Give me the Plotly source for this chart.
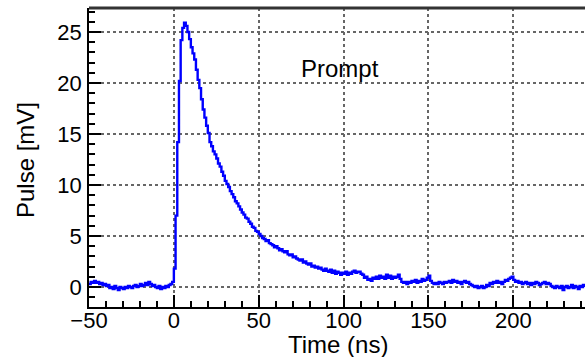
import numpy as np
import plotly.graph_objects as go

# time bins (ns), 1 ns spacing
t_start = -50
t_stop = 242
time_ns = list(range(t_start, t_stop + 1))

pulse_mv = [
    0.3, 0.5, 0.4, 0.6, 0.4, 0.5, 0.3, 0.4, 0.2, 0.3,
    0.1, 0.2, -0.1, 0.0, -0.2, 0.1, -0.1, -0.3, 0.0, -0.1,
    -0.2, 0.0, -0.1, 0.1, 0.0, -0.1, 0.1, 0.2, 0.0, 0.1,
    0.3, 0.1, 0.2, 0.4, 0.2, 0.5, 0.3, 0.1, 0.2, 0.0,
    -0.1, 0.1, -0.2, 0.0, -0.1, 0.1, 0.0, 0.2, 0.3, 0.5,
    1.8, 7.0, 14.2, 20.2, 24.2, 25.4, 25.9, 25.6, 25.0, 24.3,
    23.5, 22.9, 22.3, 21.3, 20.3, 19.5, 18.4, 17.4, 16.6, 15.8,
    15.1, 14.2, 13.8, 13.3, 13.0, 12.6, 12.1, 11.8, 11.3, 10.9,
    10.4, 10.1, 9.8, 9.4, 9.1, 8.8, 8.4, 8.2, 7.9, 7.6,
    7.3, 7.1, 6.8, 6.7, 6.4, 6.2, 5.9, 5.8, 5.5, 5.4,
    5.2, 5.0, 4.8, 4.7, 4.5, 4.6, 4.3, 4.2, 4.1, 3.9,
    4.0, 3.8, 3.6, 3.7, 3.5, 3.4, 3.5, 3.2, 3.1, 3.2,
    2.9, 3.0, 2.8, 2.7, 2.6, 2.7, 2.4, 2.5, 2.3, 2.2,
    2.3, 2.0, 2.1, 1.9, 2.0, 1.8, 1.9, 1.7, 1.6, 1.8,
    1.6, 1.5, 1.7, 1.4, 1.6, 1.3, 1.5, 1.4, 1.2, 1.4,
    1.3, 1.5, 1.2, 1.4, 1.3, 1.5, 1.6, 1.4, 1.5, 1.5,
    1.3, 1.2, 0.9, 1.0, 0.7, 0.8, 0.6, 0.9, 0.8, 1.0,
    0.8, 1.1, 0.9, 1.0, 0.8, 1.2, 0.9, 1.1, 0.8, 1.0,
    0.9, 1.0, 1.2, 0.8, 0.5, 0.4, 0.5, 0.3, 0.5, 0.4,
    0.6, 0.5, 0.7, 0.4, 0.6, 0.5, 0.8, 0.6, 0.7, 0.9,
    1.1, 0.6, 0.4, 0.3, 0.4, 0.3, 0.5, 0.4, 0.3, 0.5,
    0.4, 0.5, 0.6, 0.4, 0.7, 0.5, 0.6, 0.4, 0.5, 0.3,
    0.5, 0.6, 0.4, 0.5, 0.3, 0.2, 0.1, 0.0, 0.1, -0.1,
    0.0, 0.1, -0.1, 0.0, 0.2, 0.1, 0.4, 0.3, 0.5, 0.4,
    0.6, 0.4, 0.5, 0.3, 0.5, 0.7, 0.6, 0.8, 0.9, 1.0,
    0.7, 0.5, 0.6, 0.4, 0.5, 0.3, 0.4, 0.5, 0.3, 0.4,
    0.2, 0.4, 0.3, 0.5, 0.4, 0.2, 0.3, 0.4, 0.5, 0.3,
    0.4, 0.3, 0.1, 0.0, -0.1, 0.1, 0.0, -0.1, 0.1, -0.3,
    0.0, 0.1, -0.1, 0.0, 0.2, -0.1, 0.1, 0.0, -0.2, 0.1,
    0.0, 0.2, 0.0,
]

x_ticks = [-50, 0, 50, 100, 150, 200]
y_ticks = [0, 5, 10, 15, 20, 25]
x_range = [-50, 242.2]
y_range = [-1.96, 27.35]

FONT = "Liberation Sans, Arial, Helvetica, sans-serif"
TICK_SIZE = 22
TITLE_SIZE = 24

fig = go.Figure()
fig.add_trace(go.Scatter(
    x=time_ns, y=pulse_mv, mode="lines",
    line=dict(color="#0000ff", width=2.4, shape="hv"),
    showlegend=False, hoverinfo="skip",
))

fig.update_layout(
    width=585, height=357,
    margin=dict(l=89, r=0, t=8, b=50),
    paper_bgcolor="white", plot_bgcolor="white",
    font=dict(family=FONT, size=TICK_SIZE, color="black"),
    xaxis=dict(
        range=x_range, tickvals=x_ticks, ticks="inside", ticklen=12, tickwidth=1.5,
        tickcolor="black", showline=True, linecolor="black", linewidth=1.8,
        showgrid=True, gridcolor="#666666", griddash="dot", gridwidth=1.5,
        zeroline=False, tickfont=dict(size=TICK_SIZE), ticklabelstandoff=-7,
        minor=dict(dtick=10, ticks="inside", ticklen=6, tickwidth=1.5,
                   tickcolor="black", showgrid=False),
    ),
    yaxis=dict(
        range=y_range, tickvals=y_ticks, ticks="inside", ticklen=12, tickwidth=1.5,
        tickcolor="black", showline=True, linecolor="black", linewidth=1.8,
        showgrid=True, gridcolor="#666666", griddash="dot", gridwidth=1.5,
        zeroline=False, tickfont=dict(size=TICK_SIZE), ticklabelstandoff=1,
        minor=dict(dtick=1, ticks="inside", ticklen=6, tickwidth=1.5,
                   tickcolor="black", showgrid=False),
    ),
    shapes=[dict(type="line", xref="paper", yref="paper", x0=0, x1=1, y0=1, y1=1,
                 line=dict(color="#333333", width=3))],
    annotations=[
        dict(text="Time (ns)", xref="paper", yref="paper", x=(338 - 89) / 496,
             y=-37 / 299, xanchor="center", yanchor="middle", showarrow=False,
             font=dict(size=TITLE_SIZE)),
        dict(text="Pulse [mV]", xref="paper", yref="paper", x=-64 / 496,
             y=(307 - 160) / 299, xanchor="center", yanchor="middle", showarrow=False,
             textangle=-90, font=dict(size=TITLE_SIZE)),
        dict(text="Prompt", x=98, y=21.4, xanchor="center", yanchor="middle",
             showarrow=False, font=dict(size=TITLE_SIZE)),
    ],
)

fig.write_html("out.html")
